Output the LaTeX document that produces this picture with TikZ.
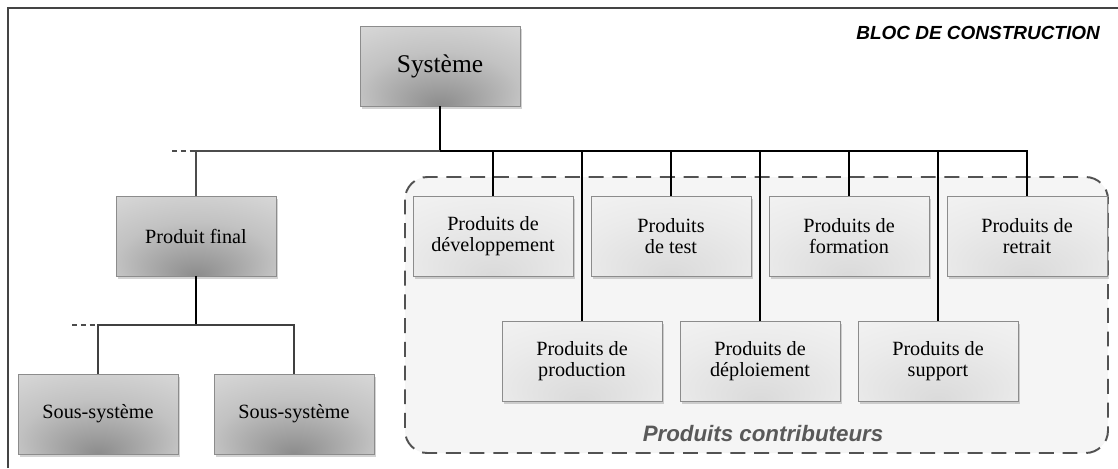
\documentclass[tikz,border=0pt]{standalone}
\usepackage{fontspec}
\setmainfont{Liberation Serif}
\setsansfont{Liberation Sans}
\usetikzlibrary{positioning, shadows}

\definecolor{shdark}{HTML}{8C8C8C}
\definecolor{shmid}{HTML}{C2C2C2}
\definecolor{shlight}{HTML}{E0E0E0}
\definecolor{lgdark}{HTML}{DADADA}
\definecolor{lgmid}{HTML}{EBEBEB}
\definecolor{lglight}{HTML}{F7F7F7}
\definecolor{framegray}{HTML}{444444}
\definecolor{contribfill}{HTML}{F5F5F5}

\pgfdeclareradialshading{darkbottom}{\pgfpoint{0bp}{-25bp}}{%
  color(0bp)=(shdark); color(25bp)=(shmid); color(50bp)=(shlight); color(70bp)=(shlight)}
\pgfdeclareradialshading{lightbottom}{\pgfpoint{0bp}{-25bp}}{%
  color(0bp)=(lgdark); color(28bp)=(lgmid); color(55bp)=(lglight); color(70bp)=(lglight)}

\tikzset{
  blockbox/.style={draw=black!45, line width=0.5pt, minimum width=3.2cm, minimum height=1.6cm,
    align=center, font=\fontsize{11.5}{12}\selectfont, inner sep=2pt,
    drop shadow={shadow xshift=1.2pt, shadow yshift=-1.8pt, opacity=0.35}},
  darkbox/.style={blockbox, shading=darkbottom},
  lightbox/.style={blockbox, shading=lightbottom},
  link/.style={line width=0.6pt, black},
  stub/.style={line width=0.6pt, black!70, densely dashed},
}

\begin{document}
\begin{tikzpicture}[x=0.02cm, y=-0.02cm]

    \useasboundingbox (0,0) rectangle (1118,468);

    % cadre
    \draw[framegray, line width=1.1pt] (8,468) -- (8,8) -- (1118,8);
    \node[anchor=east, font=\sffamily\bfseries\itshape\fontsize{10.8}{12}\selectfont] (bloc) at (1106,33) {BLOC DE CONSTRUCTION};

    % zone des produits contributeurs
    \draw[black!68, line width=1.1pt, dash pattern=on 8.5pt off 5pt, rounded corners=0.45cm, fill=contribfill]
      (405,177) rectangle (1108,453);
    \node[font=\sffamily\bfseries\itshape\fontsize{12.7}{14}\selectfont, text=black!65] (contrib) at (763,434) {Produits contributeurs};

    % blocs
    \node[darkbox, font=\fontsize{14.5}{16}\selectfont] (sys) at (440,66) {Système};
    \node[darkbox] (pf) at (196,236) {Produit final};
    \node[darkbox] (ss1) at (98,414) {Sous-système};
    \node[darkbox] (ss2) at (294,414) {Sous-système};

    \node[lightbox] (dev) at (493,236) {Produits de\\développement};
    \node[lightbox] (test) at (671,236) {Produits\\de test};
    \node[lightbox] (form) at (849,236) {Produits de\\formation};
    \node[lightbox] (ret) at (1027,236) {Produits de\\retrait};

    \node[lightbox] (prod) at (582,361) {Produits de\\production};
    \node[lightbox] (depl) at (760,361) {Produits de\\déploiement};
    \node[lightbox] (supp) at (938,361) {Produits de\\support};

    % liaisons
    \coordinate (bus) at (440,151);
    \coordinate (stubA) at (172,151);
    \coordinate (subbus) at (196,325);
    \coordinate (stubB) at (72,325);

    \draw[link, line width=1.2pt] (sys.south) -- (bus);
    \draw[link, black!70] (pf.north) |- (bus);
    \draw[link, line width=0.9pt] (bus) -| (ret.north);
    \foreach \n in {dev, test, form, prod, depl, supp}
      \draw[link] (\n.north) -- (\n.north |- bus);
    \draw[stub] (stubA) -- (pf.north |- bus);

    \draw[link, line width=0.9pt] (pf.south) -- (subbus);
    \draw[link, black!75] (ss1.north) |- (subbus) -| (ss2.north);
    \draw[stub] (stubB) -- (ss1.north |- subbus);

\end{tikzpicture}
\end{document}
